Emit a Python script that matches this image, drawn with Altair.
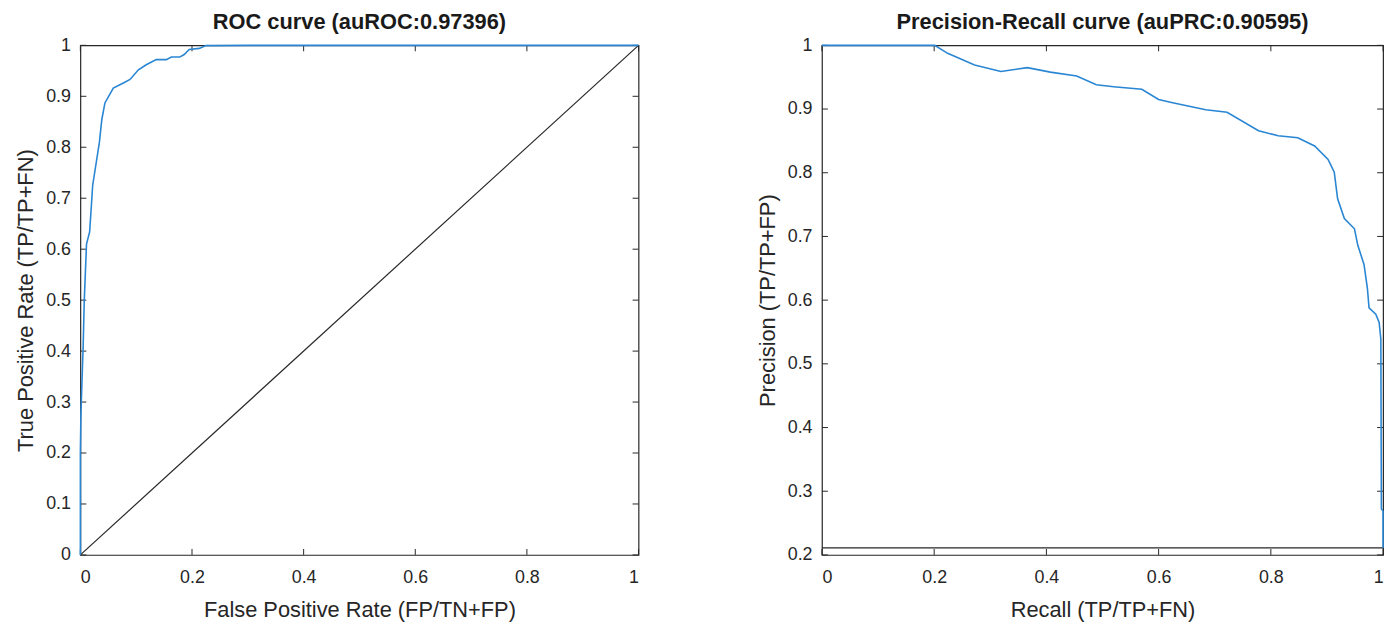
import altair as alt
import pandas as pd

# ROC curve points (FPR, TPR)
roc_fpr = [0.0, 0.0, 0.001, 0.005, 0.007, 0.011, 0.0166, 0.02, 0.022, 0.034, 0.0385, 0.044,
           0.059, 0.077, 0.089, 0.104, 0.118, 0.136, 0.154, 0.163, 0.178, 0.186, 0.195,
           0.213, 0.225, 0.3, 0.5, 0.71, 1.0]
roc_tpr = [0.0, 0.20, 0.278, 0.41, 0.50, 0.61, 0.634, 0.69, 0.725, 0.809, 0.855, 0.887,
           0.916, 0.926, 0.933, 0.952, 0.962, 0.972, 0.972, 0.977, 0.977, 0.982, 0.992,
           0.994, 0.9995, 1.0, 1.0, 1.0, 1.0]

# Precision-Recall curve points
pr_recall = [0.0, 0.1, 0.201, 0.224, 0.272, 0.319, 0.366, 0.407, 0.454, 0.489, 0.52, 0.57,
             0.60, 0.625, 0.684, 0.722, 0.778, 0.813, 0.848, 0.878, 0.902, 0.913, 0.919,
             0.931, 0.949, 0.955, 0.966, 0.972, 0.975, 0.987, 0.993, 0.996, 0.997, 1.0, 1.0]
pr_precision = [1.0, 1.0, 1.0, 0.9875, 0.969, 0.959, 0.965, 0.958, 0.952, 0.938, 0.935, 0.931,
                0.915, 0.910, 0.899, 0.895, 0.866, 0.858, 0.855, 0.842, 0.821, 0.801, 0.759,
                0.728, 0.712, 0.686, 0.656, 0.619, 0.588, 0.578, 0.565, 0.539, 0.272, 0.269, 0.211]

# Reference lines
diag_x = [0.0, 1.0]
diag_y = [0.0, 1.0]
baseline_x = [0.0, 1.0]
baseline_y = [0.211, 0.211]

# Tick values
x_ticks = [0, 0.2, 0.4, 0.6, 0.8, 1]
roc_y_ticks = [0, 0.1, 0.2, 0.3, 0.4, 0.5, 0.6, 0.7, 0.8, 0.9, 1]
pr_y_ticks = [0.2, 0.3, 0.4, 0.5, 0.6, 0.7, 0.8, 0.9, 1]

roc_title = "ROC curve (auROC:0.97396)"
pr_title = "Precision-Recall curve (auPRC:0.90595)"

BLUE = "#2a86d3"
DARK = "#262626"
FONT = "Liberation Sans"
TL = 6  # inward tick length


def panel(curve_df, ref_df, xname, yname, xtitle, ytitle, ydomain, yticks, title, W, H):
    xs = alt.Scale(domain=[0, 1], nice=False, zero=False)
    ys = alt.Scale(domain=ydomain, nice=False, zero=False)
    xaxis = alt.Axis(values=x_ticks, labelExpr="datum.value", title=xtitle, ticks=False,
                     domain=False, grid=False, labelPadding=14, titlePadding=13)
    yaxis = alt.Axis(values=yticks, labelExpr="datum.value", title=ytitle, ticks=False,
                     domain=False, grid=False, labelPadding=10, titlePadding=8)
    ref = alt.Chart(ref_df).mark_line(color=DARK, strokeWidth=1.2).encode(
        x=alt.X("x:Q", scale=xs, axis=xaxis),
        y=alt.Y("y:Q", scale=ys, axis=yaxis),
        order="i:O",
    )
    curve = alt.Chart(curve_df).mark_line(color=BLUE, strokeWidth=1.6).encode(
        x=alt.X(f"{xname}:Q", scale=xs),
        y=alt.Y(f"{yname}:Q", scale=ys),
        order="i:O",
    )
    xt = pd.DataFrame({"t": x_ticks})
    yt = pd.DataFrame({"t": yticks})
    tb = alt.Chart(xt).mark_rule(color=DARK, strokeWidth=1).encode(
        x=alt.X("t:Q", scale=xs), y=alt.value(H), y2=alt.value(H - TL))
    tt = alt.Chart(xt).mark_rule(color=DARK, strokeWidth=1).encode(
        x=alt.X("t:Q", scale=xs), y=alt.value(0), y2=alt.value(TL))
    tl = alt.Chart(yt).mark_rule(color=DARK, strokeWidth=1).encode(
        y=alt.Y("t:Q", scale=ys), x=alt.value(0), x2=alt.value(TL))
    tr = alt.Chart(yt).mark_rule(color=DARK, strokeWidth=1).encode(
        y=alt.Y("t:Q", scale=ys), x=alt.value(W), x2=alt.value(W - TL))
    return alt.layer(ref, tb, tt, tl, tr, curve).properties(
        width=W, height=H,
        title=alt.TitleParams(title, fontSize=22, fontWeight="bold", font=FONT, color="#1a1a1a",
                              offset=2),
    )


roc_df = pd.DataFrame({"fpr": roc_fpr, "tpr": roc_tpr, "i": range(len(roc_fpr))})
diag_df = pd.DataFrame({"x": diag_x, "y": diag_y, "i": range(2)})
pr_df = pd.DataFrame({"recall": pr_recall, "precision": pr_precision, "i": range(len(pr_recall))})
base_df = pd.DataFrame({"x": baseline_x, "y": baseline_y, "i": range(2)})

left = panel(roc_df, diag_df, "fpr", "tpr", "False Positive Rate (FP/TN+FP)",
             "True Positive Rate (TP/TP+FN)", [0, 1], roc_y_ticks, roc_title, 563, 514)
right = panel(pr_df, base_df, "recall", "precision", "Recall (TP/TP+FN)",
              "Precision (TP/TP+FP)", [0.2, 1], pr_y_ticks, pr_title, 566, 514)

chart = alt.hconcat(left, right, spacing=114).resolve_scale(x="independent", y="independent").configure(
    padding={"left": 6, "top": 0, "right": 5, "bottom": 0},
).configure_view(
    stroke=DARK, strokeWidth=1.2
).configure_axis(
    labelFont=FONT, titleFont=FONT, labelFontSize=18, titleFontSize=22,
    labelColor=DARK, titleColor=DARK, titleFontWeight="normal"
).configure_title(anchor="middle")

chart.save("out.html", embed_options={"renderer": "svg", "actions": False})
